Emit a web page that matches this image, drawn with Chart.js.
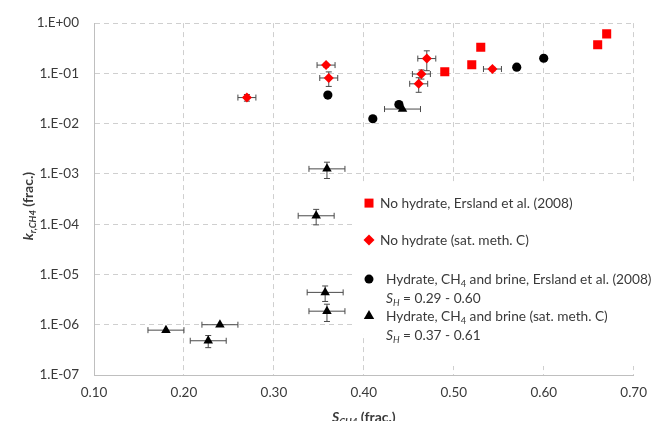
<!DOCTYPE html>
<html>
<head>
<meta charset="utf-8">
<script src="https://cdn.jsdelivr.net/npm/chart.js@4/dist/chart.umd.min.js"></script>
<style>
  html, body { margin: 0; padding: 0; background: #fff; }
  #wrap { width: 657px; height: 421px; }
</style>
</head>
<body>
<div id="wrap"><canvas id="c" width="657" height="421"></canvas></div>
<script>
// Relative permeability of CH4 versus CH4 saturation
const xTicks = [0.10, 0.20, 0.30, 0.40, 0.50, 0.60, 0.70];
const yTicks = [1e-7, 1e-6, 1e-5, 1e-4, 1e-3, 1e-2, 1e-1, 1];
const yTickLabels = ['1.E-07', '1.E-06', '1.E-05', '1.E-04', '1.E-03', '1.E-02', '1.E-01', '1.E+00'];

// No hydrate, Ersland et al. (2008)
const noHydErsS = [0.49, 0.52, 0.53, 0.66, 0.67];
const noHydErsK = [0.108, 0.148, 0.33, 0.37, 0.61];

// No hydrate (sat. meth. C)
const noHydSatS = [0.27, 0.358, 0.361, 0.461, 0.464, 0.47, 0.543];
const noHydSatK = [0.033, 0.146, 0.081, 0.062, 0.097, 0.197, 0.122];
const noHydSatErrS = [0.01, 0.01, 0.01, 0.01, 0.01, 0.01, 0.01];
const noHydSatErrK = [0.005, 0.012, 0.026, 0.02, 0.02, 0.084, 0.01];

// Hydrate, CH4 and brine, Ersland et al. (2008)
const hydErsS = [0.36, 0.41, 0.439, 0.57, 0.60];
const hydErsK = [0.037, 0.0125, 0.024, 0.133, 0.20];

// Hydrate, CH4 and brine (sat. meth. C)
const hydSatS = [0.18, 0.227, 0.24, 0.347, 0.357, 0.359, 0.359, 0.443];
const hydSatK = [7.8e-7, 4.8e-7, 1.0e-6, 1.47e-4, 4.4e-6, 1.86e-6, 1.26e-3, 0.0195];
const hydSatErrS = [0.02, 0.02, 0.02, 0.02, 0.02, 0.02, 0.02, 0.02];
const hydSatErrK = [0, 1.3e-7, 0, 0.5e-4, 1.5e-6, 0.7e-6, 0.45e-3, 0];

const FONT = 'Lato, "Liberation Sans", sans-serif';
const TXT = '#3a3a3a';
const RED = '#ff0000';
const BLK = '#000000';

const pts = (xs, ys) => xs.map((v, i) => ({ x: v, y: ys[i] }));

// Legend entries: marker style + rich text lines
const legendItems = [
  { style: 'rect', color: RED, lines: [[{ t: 'No hydrate, Ersland et al. (2008)' }]] },
  { style: 'rectRot', color: RED, lines: [[{ t: 'No hydrate (sat. meth. C)' }]] },
  { style: 'circle', color: BLK, lines: [
      [{ t: 'Hydrate, CH' }, { t: '4', sub: true }, { t: ' and brine, Ersland et al. (2008)' }],
      [{ t: 'S', it: true }, { t: 'H', sub: true, it: true }, { t: ' = 0.29 - 0.60' }]
  ] },
  { style: 'triangle', color: BLK, lines: [
      [{ t: 'Hydrate, CH' }, { t: '4', sub: true }, { t: ' and brine (sat. meth. C)' }],
      [{ t: 'S', it: true }, { t: 'H', sub: true, it: true }, { t: ' = 0.37 - 0.61' }]
  ] }
];

function fontFor(p, size, bold) {
  const s = p.sub ? size * 0.68 : size;
  return (p.it ? 'italic ' : '') + (bold || p.b ? 'bold ' : '') + s + 'px ' + FONT;
}
function richWidth(ctx, parts, size, bold) {
  let w = 0;
  parts.forEach(p => { ctx.font = fontFor(p, size, bold); w += ctx.measureText(p.t).width; });
  return w;
}
function drawRich(ctx, parts, x, y, size, bold) {
  // y is the baseline
  ctx.textAlign = 'left';
  ctx.textBaseline = 'alphabetic';
  parts.forEach(p => {
    ctx.font = fontFor(p, size, bold);
    ctx.fillText(p.t, x, p.sub ? y + size * 0.22 : y);
    x += ctx.measureText(p.t).width;
  });
}
function marker(ctx, style, x, y, color) {
  ctx.save();
  ctx.fillStyle = color;
  ctx.beginPath();
  if (style === 'rect') {
    ctx.rect(x - 4.5, y - 4.5, 9, 9);
  } else if (style === 'rectRot') {
    ctx.moveTo(x, y - 5.5); ctx.lineTo(x + 5.5, y); ctx.lineTo(x, y + 5.5); ctx.lineTo(x - 5.5, y);
  } else if (style === 'circle') {
    ctx.arc(x, y, 4.5, 0, Math.PI * 2);
  } else {
    const r = 6;
    ctx.moveTo(x, y - r);
    ctx.lineTo(x + r * 0.866, y + r * 0.5);
    ctx.lineTo(x - r * 0.866, y + r * 0.5);
  }
  ctx.closePath();
  ctx.fill();
  ctx.restore();
}

const errorBars = {
  id: 'errorBars',
  beforeDatasetsDraw(chart) {
    const { ctx, chartArea: a, scales: { x, y } } = chart;
    // legend panel background over the grid
    ctx.save();
    ctx.fillStyle = '#ffffff';
    ctx.fillRect(a.left + 260, a.top + 159, a.right - a.left, 152);
    ctx.fillRect(a.left + 282, a.top + 300, a.right - a.left, a.bottom - a.top - 309);
    ctx.restore();

    ctx.save();
    ctx.strokeStyle = '#4a4a4a';
    ctx.lineWidth = 1;
    const cap = 3;
    chart.data.datasets.forEach(ds => {
      if (!ds.errX) return;
      ds.data.forEach((p, j) => {
        const cx = x.getPixelForValue(p.x), cy = y.getPixelForValue(p.y);
        const ex = ds.errX[j], ey = ds.errY[j];
        ctx.beginPath();
        if (ex) {
          const x1 = x.getPixelForValue(p.x - ex), x2 = x.getPixelForValue(p.x + ex);
          ctx.moveTo(x1, cy); ctx.lineTo(x2, cy);
          ctx.moveTo(x1, cy - cap); ctx.lineTo(x1, cy + cap);
          ctx.moveTo(x2, cy - cap); ctx.lineTo(x2, cy + cap);
        }
        if (ey) {
          const y1 = y.getPixelForValue(p.y + ey), y2 = y.getPixelForValue(p.y - ey);
          ctx.moveTo(cx, y1); ctx.lineTo(cx, y2);
          ctx.moveTo(cx - cap, y1); ctx.lineTo(cx + cap, y1);
          ctx.moveTo(cx - cap, y2); ctx.lineTo(cx + cap, y2);
        }
        ctx.stroke();
      });
    });
    ctx.restore();
  }
};

const annotations = {
  id: 'annotations',
  afterDraw(chart) {
    const { ctx, chartArea: a } = chart;
    ctx.save();
    ctx.fillStyle = TXT;
    // legend
    const lx = a.left + 275, tx1 = a.left + 286, tx2 = a.left + 292;
    const rows = [
      { y: a.top + 180, lines: [a.top + 180] },
      { y: a.top + 217, lines: [a.top + 217] },
      { y: a.top + 256, lines: [a.top + 256, a.top + 275] },
      { y: a.top + 293, lines: [a.top + 293, a.top + 312] }
    ];
    legendItems.forEach((it, i) => {
      marker(ctx, it.style, lx, rows[i].y, it.color);
      const tx = i < 2 ? tx1 : tx2;
      it.lines.forEach((ln, k) => {
        ctx.fillStyle = TXT;
        drawRich(ctx, ln, tx, rows[i].lines[k] + 5, 13.7, false);
      });
    });

    // x axis title
    const xt = [{ t: 'S', it: true }, { t: 'CH4', sub: true, it: true }, { t: ' (frac.)' }];
    const xw = richWidth(ctx, xt, 14, true);
    drawRich(ctx, xt, (a.left + a.right) / 2 - xw / 2, 422, 14, true);

    // y axis title
    const yt = [{ t: 'k', it: true }, { t: 'r,CH4', sub: true, it: true }, { t: ' (frac.)' }];
    const yw = richWidth(ctx, yt, 14, true);
    ctx.translate(33, (a.top + a.bottom) / 2 + 7);
    ctx.rotate(-Math.PI / 2);
    drawRich(ctx, yt, -yw / 2, 0, 14, true);
    ctx.restore();
  }
};

new Chart(document.getElementById('c'), {
  type: 'scatter',
  data: {
    datasets: [
      {
        label: 'No hydrate, Ersland et al. (2008)',
        data: pts(noHydErsS, noHydErsK),
        pointStyle: 'rect', pointRadius: 6.4, backgroundColor: RED, borderWidth: 0
      },
      {
        label: 'No hydrate (sat. meth. C)',
        data: pts(noHydSatS, noHydSatK),
        errX: noHydSatErrS, errY: noHydSatErrK,
        pointStyle: 'rectRot', pointRadius: 5, backgroundColor: RED, borderWidth: 0
      },
      {
        label: 'Hydrate, CH4 and brine, Ersland et al. (2008)',
        data: pts(hydErsS, hydErsK),
        pointStyle: 'circle', pointRadius: 4.6, backgroundColor: BLK, borderWidth: 0
      },
      {
        label: 'Hydrate, CH4 and brine (sat. meth. C)',
        data: pts(hydSatS, hydSatK),
        errX: hydSatErrS, errY: hydSatErrK,
        pointStyle: 'triangle', pointRadius: 5.5, backgroundColor: BLK, borderWidth: 0
      }
    ]
  },
  options: {
    responsive: false,
    animation: false,
    layout: { padding: { left: 0, right: 15, top: 21, bottom: 0 } },
    plugins: { legend: { display: false }, tooltip: { enabled: false } },
    scales: {
      x: {
        type: 'linear', min: 0.1, max: 0.7,
        afterBuildTicks: s => { s.ticks = xTicks.map(v => ({ value: v })); },
        afterFit: s => { s.height = 46; },
        ticks: {
          padding: 10, color: TXT, font: { family: FONT, size: 13.5 },
          callback: v => Number(v).toFixed(2)
        },
        grid: { color: '#cfcfcf', lineWidth: 1, drawTicks: false },
        border: { display: true, color: '#bfbfbf', width: 1, dash: [5, 4] }
      },
      y: {
        type: 'logarithmic', min: 1e-7, max: 1,
        afterBuildTicks: s => { s.ticks = yTicks.map(v => ({ value: v })); },
        afterFit: s => { s.width = 94; },
        ticks: {
          padding: 15, color: TXT, font: { family: FONT, size: 13.5 },
          callback: v => { const i = yTicks.findIndex(t => Math.abs(Math.log10(t) - Math.log10(v)) < 1e-6); return i >= 0 ? yTickLabels[i] : ''; }
        },
        grid: { color: '#cfcfcf', lineWidth: 1, drawTicks: false },
        border: { display: true, color: '#bfbfbf', width: 1, dash: [5, 4] }
      }
    }
  },
  plugins: [errorBars, annotations]
});
</script>
</body>
</html>
